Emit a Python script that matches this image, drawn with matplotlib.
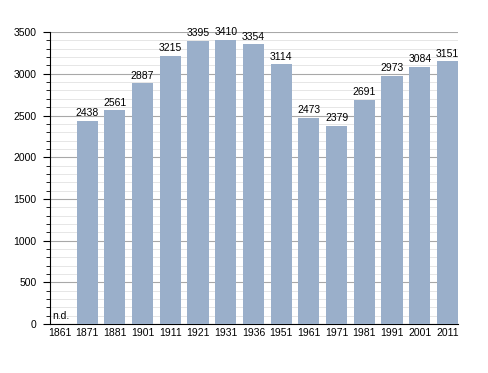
import matplotlib.pyplot as plt
import numpy as np

plt.rcParams['font.family'] = ['Liberation Sans', 'DejaVu Sans']

annees = ['1861', '1871', '1881', '1901', '1911', '1921', '1931', '1936',
          '1951', '1961', '1971', '1981', '1991', '2001', '2011']
habitants = [None, 2438, 2561, 2887, 3215, 3395, 3410, 3354,
             3114, 2473, 2379, 2691, 2973, 3084, 3151]

fig = plt.figure(figsize=(4.88, 3.73), dpi=100)
ax = fig.add_axes([0.1025, 0.131, 0.836, 0.783])

x = np.arange(len(annees))
vals = [v if v is not None else 0 for v in habitants]
ax.bar(x, vals, width=0.76, color='#9aafca', zorder=3)
for i, v in enumerate(habitants):
    if v is None:
        ax.text(i - 0.27, 60, 'n.d.', fontsize=7.5, ha='left', va='baseline', zorder=4)
    else:
        ax.text(i, v + 55, str(v), fontsize=7.5, ha='center', va='baseline', zorder=4)

ax.set_xlim(-0.34, 14.38)
ax.set_ylim(0, 3500)
ax.set_xticks(x)
ax.set_xticklabels(annees)
ax.set_yticks(np.arange(0, 3501, 500))
ax.set_yticks(np.arange(0, 3501, 100), minor=True)
ax.tick_params(axis='x', length=0, labelsize=7.5, pad=2.5)
ax.tick_params(axis='y', which='major', length=5, labelsize=7.5, pad=4.5)
ax.tick_params(axis='y', which='minor', length=3)
ax.grid(axis='y', which='major', color='#a8a8a8', linewidth=0.8, zorder=0)
ax.grid(axis='y', which='minor', color='#e2e2e2', linewidth=0.6, zorder=0)
for s in ['top', 'right']:
    ax.spines[s].set_visible(False)
ax.spines['left'].set_linewidth(0.8)
ax.spines['bottom'].set_linewidth(0.8)

fig.savefig('out.png', dpi=100)
